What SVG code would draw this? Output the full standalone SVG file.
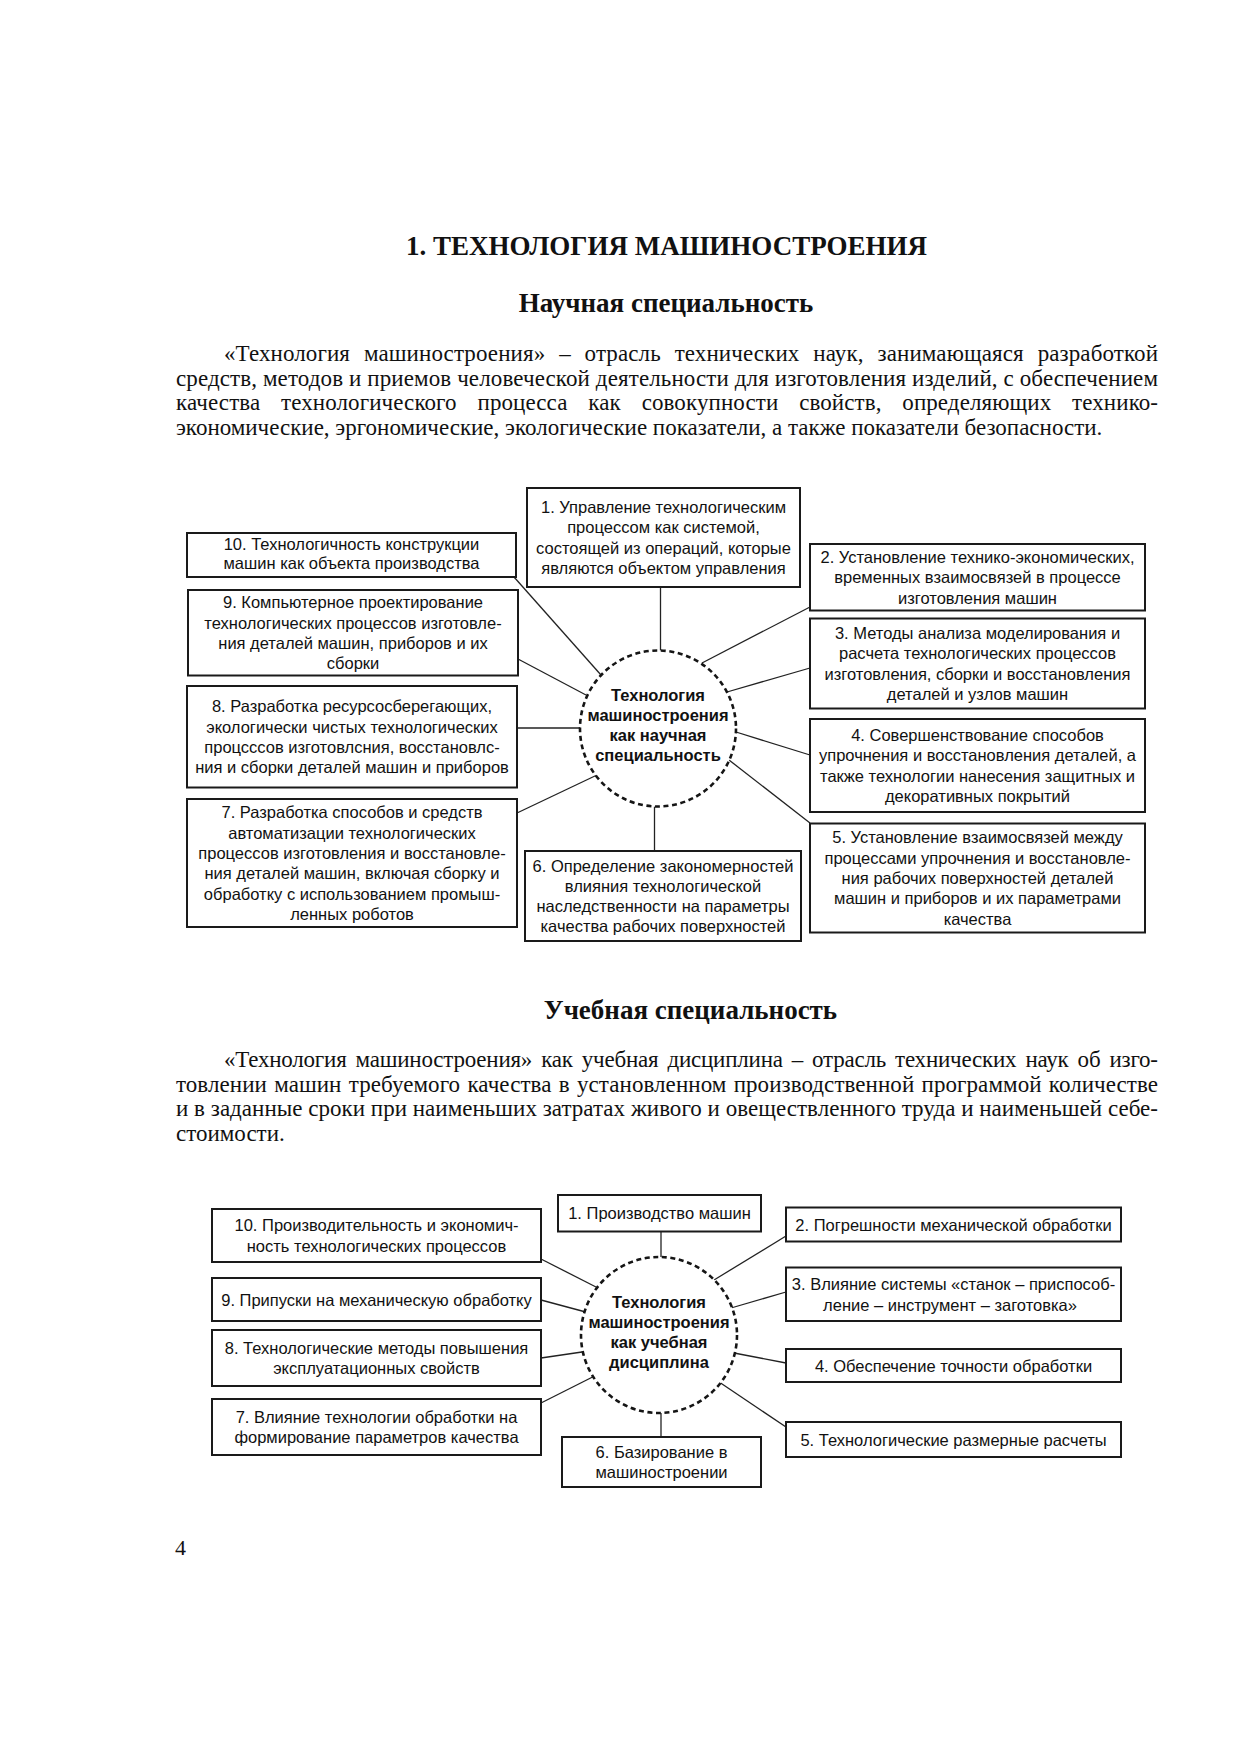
<svg xmlns="http://www.w3.org/2000/svg" width="1240" height="1755" viewBox="0 0 1240 1755">
<style>
.bg{fill:#fff}
.box{fill:#fff;stroke:#1a1a1a;stroke-width:2}
.hub{fill:#fff;stroke:#151515;stroke-width:2.6;stroke-dasharray:5 3.6}
.bt{font-family:"Liberation Sans",Arial,sans-serif;font-size:16.5px;fill:#111;text-anchor:middle}
.ct{font-family:"Liberation Sans",Arial,sans-serif;font-size:16.5px;font-weight:bold;fill:#111;text-anchor:middle}
.conn line{stroke:#222;stroke-width:1.3}
.body{font-family:"Liberation Serif","Times New Roman",serif;font-size:23px;fill:#111}
.h{font-family:"Liberation Serif","Times New Roman",serif;font-size:27px;font-weight:bold;fill:#111;text-anchor:middle}
</style>
<rect class="bg" x="0" y="0" width="1240" height="1755"/>

<g id="text-page">
<text class="h" x="666.5" y="255">1. ТЕХНОЛОГИЯ МАШИНОСТРОЕНИЯ</text>
<text class="h" x="666" y="312">Научная специальность</text>
<text class="body" x="224" y="361" textLength="934" lengthAdjust="spacing" word-spacing="8">«Технология машиностроения» – отрасль технических наук, занимающаяся разработкой</text>
<text class="body" x="176" y="385.6" textLength="982" lengthAdjust="spacing">средств, методов и приемов человеческой деятельности для изготовления изделий, с обеспечением</text>
<text class="body" x="176" y="410.2" textLength="982" lengthAdjust="spacing" word-spacing="15">качества технологического процесса как совокупности свойств, определяющих технико-</text>
<text class="body" x="176" y="434.8">экономические, эргономические, экологические показатели, а также показатели безопасности.</text>

<text class="h" x="690.5" y="1019">Учебная специальность</text>
<text class="body" x="224" y="1067" textLength="934" lengthAdjust="spacing" word-spacing="3.5">«Технология машиностроения» как учебная дисциплина – отрасль технических наук об изго-</text>
<text class="body" x="176" y="1091.6" textLength="982" lengthAdjust="spacing" word-spacing="1.5">товлении машин требуемого качества в установленном производственной программой количестве</text>
<text class="body" x="176" y="1116.2" textLength="982" lengthAdjust="spacing">и в заданные сроки при наименьших затратах живого и овеществленного труда и наименьшей себе-</text>
<text class="body" x="176" y="1140.8">стоимости.</text>
<text class="body" x="175" y="1555" style="font-size:22px">4</text>
</g>

<!-- Diagram 1 connectors -->
<g id="connectors-1" class="conn">
<line x1="660.5" y1="587" x2="660.5" y2="650.5"/>
<line x1="810" y1="607" x2="702" y2="663"/>
<line x1="810" y1="668" x2="727" y2="692"/>
<line x1="736" y1="732" x2="810" y2="755"/>
<line x1="729" y1="760" x2="810" y2="823"/>
<line x1="654.5" y1="806.5" x2="654.5" y2="851"/>
<line x1="517" y1="813" x2="597" y2="775"/>
<line x1="517" y1="728" x2="580" y2="728"/>
<line x1="518" y1="659" x2="586" y2="695"/>
<line x1="514" y1="577" x2="601" y2="675"/>
</g>

<g id="hub-1">
<circle class="hub" cx="658" cy="728.5" r="78"/>
<text class="ct" x="658" y="701">Технология</text>
<text class="ct" x="658" y="721">машиностроения</text>
<text class="ct" x="658" y="741">как научная</text>
<text class="ct" x="658" y="761">специальность</text>
</g>

<g id="n1-1">
<rect class="box" x="527" y="488" width="273" height="99"/>
<text class="bt" x="663.5" y="513">1. Управление технологическим</text>
<text class="bt" x="663.5" y="533.3">процессом как системой,</text>
<text class="bt" x="663.5" y="553.6">состоящей из операций, которые</text>
<text class="bt" x="663.5" y="573.9">являются объектом управления</text>
</g>
<g id="n1-2">
<rect class="box" x="810" y="544" width="335" height="66.5"/>
<text class="bt" x="977.5" y="563">2. Установление технико-экономических,</text>
<text class="bt" x="977.5" y="583.3">временных взаимосвязей в процессе</text>
<text class="bt" x="977.5" y="603.6">изготовления машин</text>
</g>
<g id="n1-3">
<rect class="box" x="810" y="618.5" width="335" height="90"/>
<text class="bt" x="977.5" y="639">3. Методы анализа моделирования и</text>
<text class="bt" x="977.5" y="659.3">расчета технологических процессов</text>
<text class="bt" x="977.5" y="679.6">изготовления, сборки и восстановления</text>
<text class="bt" x="977.5" y="699.9">деталей и узлов машин</text>
</g>
<g id="n1-4">
<rect class="box" x="810" y="719" width="335" height="93"/>
<text class="bt" x="977.5" y="741">4. Совершенствование способов</text>
<text class="bt" x="977.5" y="761.3">упрочнения и восстановления деталей, а</text>
<text class="bt" x="977.5" y="781.6">также технологии нанесения защитных и</text>
<text class="bt" x="977.5" y="801.9">декоративных покрытий</text>
</g>
<g id="n1-5">
<rect class="box" x="810" y="823.5" width="335" height="109"/>
<text class="bt" x="977.5" y="843.4">5. Установление взаимосвязей между</text>
<text class="bt" x="977.5" y="863.7">процессами упрочнения и восстановле-</text>
<text class="bt" x="977.5" y="884">ния рабочих поверхностей деталей</text>
<text class="bt" x="977.5" y="904.3">машин и приборов и их параметрами</text>
<text class="bt" x="977.5" y="924.6">качества</text>
</g>
<g id="n1-6">
<rect class="box" x="525" y="851" width="276" height="90"/>
<text class="bt" x="663" y="871.5">6. Определение закономерностей</text>
<text class="bt" x="663" y="891.8">влияния технологической</text>
<text class="bt" x="663" y="912.1">наследственности на параметры</text>
<text class="bt" x="663" y="932.4">качества рабочих поверхностей</text>
</g>
<g id="n1-7">
<rect class="box" x="187" y="799" width="330" height="128"/>
<text class="bt" x="352" y="818.3">7. Разработка способов и средств</text>
<text class="bt" x="352" y="838.6">автоматизации технологических</text>
<text class="bt" x="352" y="858.9">процессов изготовления и восстановле-</text>
<text class="bt" x="352" y="879.2">ния деталей машин, включая сборку и</text>
<text class="bt" x="352" y="899.5">обработку с использованием промыш-</text>
<text class="bt" x="352" y="919.8">ленных роботов</text>
</g>
<g id="n1-8">
<rect class="box" x="187" y="686" width="330" height="101.5"/>
<text class="bt" x="352" y="712.3">8. Разработка ресурсосберегающих,</text>
<text class="bt" x="352" y="732.6">экологически чистых технологических</text>
<text class="bt" x="352" y="752.9">процсссов изготовлсния, восстановлс-</text>
<text class="bt" x="352" y="773.2">ния и сборки деталей машин и приборов</text>
</g>
<g id="n1-9">
<rect class="box" x="188" y="590" width="330" height="85.5"/>
<text class="bt" x="353" y="608.3">9. Компьютерное проектирование</text>
<text class="bt" x="353" y="628.6">технологических процессов изготовле-</text>
<text class="bt" x="353" y="648.9">ния деталей машин, приборов и их</text>
<text class="bt" x="353" y="669.2">сборки</text>
</g>
<g id="n1-10">
<rect class="box" x="187" y="533" width="329" height="44"/>
<text class="bt" x="351.5" y="549.5">10. Технологичность конструкции</text>
<text class="bt" x="351.5" y="569">машин как объекта производства</text>
</g>

<!-- Diagram 2 connectors -->
<g id="connectors-2" class="conn">
<line x1="661" y1="1231.5" x2="661" y2="1257"/>
<line x1="786" y1="1236" x2="714" y2="1280"/>
<line x1="786" y1="1292" x2="731" y2="1308"/>
<line x1="786" y1="1363" x2="734" y2="1353"/>
<line x1="786" y1="1427" x2="720.6" y2="1383"/>
<line x1="661" y1="1413" x2="661" y2="1437"/>
<line x1="541" y1="1403" x2="592.6" y2="1377"/>
<line x1="541" y1="1358" x2="582" y2="1352"/>
<line x1="541" y1="1300" x2="585.7" y2="1312"/>
<line x1="541" y1="1259" x2="596" y2="1287"/>
</g>

<g id="hub-2">
<circle class="hub" cx="659" cy="1335" r="78"/>
<text class="ct" x="659" y="1308">Технология</text>
<text class="ct" x="659" y="1328">машиностроения</text>
<text class="ct" x="659" y="1347.7">как учебная</text>
<text class="ct" x="659" y="1367.7">дисциплина</text>
</g>

<g id="n2-1">
<rect class="box" x="558" y="1195" width="203" height="36.5"/>
<text class="bt" x="659.5" y="1219.3">1. Производство машин</text>
</g>
<g id="n2-2">
<rect class="box" x="786" y="1207.5" width="335" height="34"/>
<text class="bt" x="953.5" y="1230.5">2. Погрешности механической обработки</text>
</g>
<g id="n2-3">
<rect class="box" x="786" y="1267.5" width="335" height="53.5"/>
<text class="bt" x="953.5" y="1290">3. Влияние системы «станок – приспособ-</text>
<text class="bt" x="950" y="1310.5">ление – инструмент – заготовка»</text>
</g>
<g id="n2-4">
<rect class="box" x="786" y="1349" width="335" height="33"/>
<text class="bt" x="953.5" y="1371.5">4. Обеспечение точности обработки</text>
</g>
<g id="n2-5">
<rect class="box" x="786" y="1422" width="335" height="35"/>
<text class="bt" x="953.5" y="1445.5">5. Технологические размерные расчеты</text>
</g>
<g id="n2-6">
<rect class="box" x="562" y="1437" width="199" height="50"/>
<text class="bt" x="661.5" y="1457.8">6. Базирование в</text>
<text class="bt" x="661.5" y="1478.3">машиностроении</text>
</g>
<g id="n2-7">
<rect class="box" x="212" y="1399" width="329" height="56"/>
<text class="bt" x="376.5" y="1422.8">7. Влияние технологии обработки на</text>
<text class="bt" x="376.5" y="1443.3">формирование параметров качества</text>
</g>
<g id="n2-8">
<rect class="box" x="212" y="1330" width="329" height="56"/>
<text class="bt" x="376.5" y="1353.8">8. Технологические методы повышения</text>
<text class="bt" x="376.5" y="1374.3">эксплуатационных свойств</text>
</g>
<g id="n2-9">
<rect class="box" x="212" y="1278" width="329" height="43"/>
<text class="bt" x="376.5" y="1305.5">9. Припуски на механическую обработку</text>
</g>
<g id="n2-10">
<rect class="box" x="212" y="1209" width="329" height="53"/>
<text class="bt" x="376.5" y="1231.3">10. Производительность и экономич-</text>
<text class="bt" x="376.5" y="1251.8">ность технологических процессов</text>
</g>
</svg>
